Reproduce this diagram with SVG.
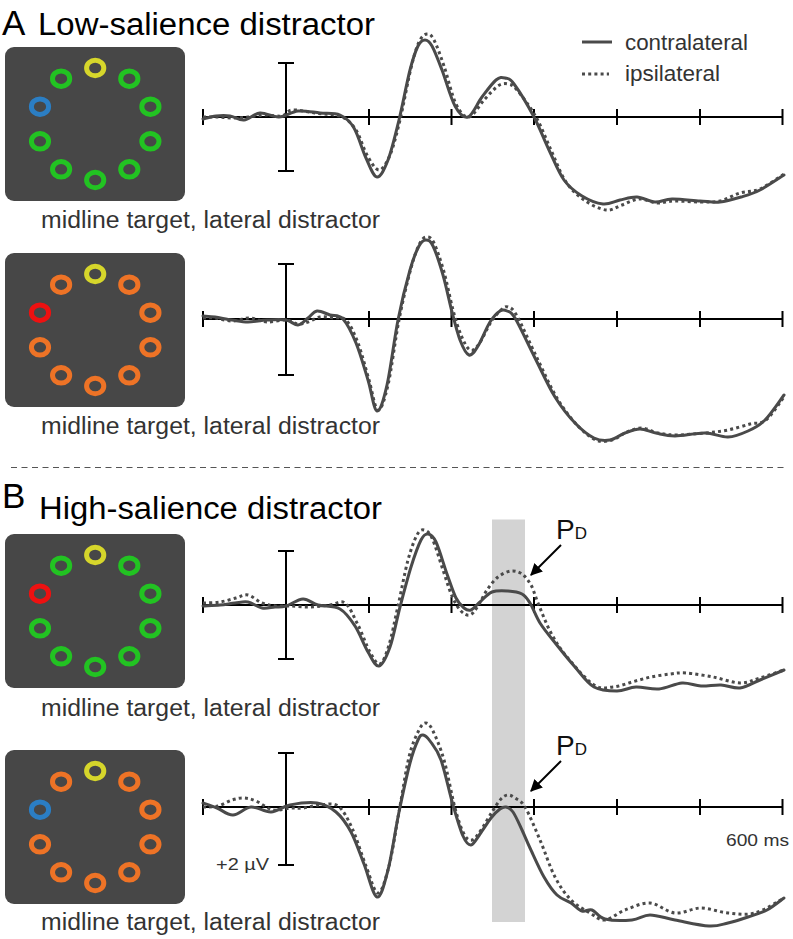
<svg xmlns="http://www.w3.org/2000/svg" xmlns:xlink="http://www.w3.org/1999/xlink" width="793" height="939" viewBox="0 0 793 939">
<defs>
<style>
text{font-family:'Liberation Sans',Arial,sans-serif}
.big{font-size:35px;fill:#000}
.title{font-size:31px;fill:#000}
.sub{font-size:23px;fill:#333}
.leg{font-size:22px;fill:#333}
.small{font-size:17px;fill:#333}
.pd{font-size:28px;fill:#111}
.box{fill:#474747}
.axis{fill:none;stroke:#000;stroke-width:2}
.solid{fill:none;stroke:#4a4a4a;stroke-width:3;stroke-linejoin:round;stroke-linecap:round}
.dotted{fill:none;stroke:#4a4a4a;stroke-width:3;stroke-dasharray:3 3.2}
.arrow{fill:none;stroke:#000;stroke-width:2}
</style>
<ellipse id="ring" cx="0" cy="0" rx="8.6" ry="7.8" fill="none" stroke-width="5"/>
<marker id="ah" viewBox="0 0 10 10" refX="9" refY="5" markerWidth="6" markerHeight="6" orient="auto" markerUnits="strokeWidth">
<path d="M0,0 L10,5 L0,10 Z" fill="#000"/>
</marker>
</defs>
<rect width="793" height="939" fill="#fff"/>

<!-- titles -->
<text class="big" x="2" y="35">A</text>
<text class="title" x="38" y="35" textLength="337" lengthAdjust="spacingAndGlyphs">Low-salience distractor</text>
<text class="big" x="2" y="508">B</text>
<text class="title" x="39" y="519" textLength="343" lengthAdjust="spacingAndGlyphs">High-salience distractor</text>

<!-- legend -->
<g id="legend">
<line x1="582" y1="42" x2="612" y2="42" class="solid" style="stroke-linecap:butt"/>
<text class="leg" x="625" y="50" textLength="123" lengthAdjust="spacingAndGlyphs">contralateral</text>
<line x1="582" y1="74" x2="609" y2="74" class="dotted"/>
<text class="leg" x="625" y="81" textLength="95" lengthAdjust="spacingAndGlyphs">ipsilateral</text>
</g>

<line x1="11" y1="467.5" x2="786" y2="467.5" stroke="#555" stroke-width="1.2" stroke-dasharray="6 4.5"/>

<rect x="492" y="519.5" width="33" height="402.5" fill="#d3d3d3"/>

<!-- stimulus panels -->
<g id="stim-A1" transform="translate(0,47)">
<rect class="box" x="5" y="0" width="180" height="154" rx="9"/>
<use xlink:href="#ring" x="95.2" y="21" stroke="#d6d62b"/>
<use xlink:href="#ring" x="129.3" y="31.7" stroke="#22c322"/>
<use xlink:href="#ring" x="150.4" y="59.7" stroke="#22c322"/>
<use xlink:href="#ring" x="150.4" y="94.3" stroke="#22c322"/>
<use xlink:href="#ring" x="129.3" y="122.3" stroke="#22c322"/>
<use xlink:href="#ring" x="95.2" y="133" stroke="#22c322"/>
<use xlink:href="#ring" x="61.1" y="122.3" stroke="#22c322"/>
<use xlink:href="#ring" x="40" y="94.3" stroke="#22c322"/>
<use xlink:href="#ring" x="40" y="59.7" stroke="#2b7ec4"/>
<use xlink:href="#ring" x="61.1" y="31.7" stroke="#22c322"/>
</g>
<text class="sub" x="41" y="228" textLength="339" lengthAdjust="spacingAndGlyphs">midline target, lateral distractor</text>

<g id="stim-A2" transform="translate(0,253)">
<rect class="box" x="5" y="0" width="180" height="154" rx="9"/>
<use xlink:href="#ring" x="95.2" y="21" stroke="#d6d62b"/>
<use xlink:href="#ring" x="129.3" y="31.7" stroke="#ee7326"/>
<use xlink:href="#ring" x="150.4" y="59.7" stroke="#ee7326"/>
<use xlink:href="#ring" x="150.4" y="94.3" stroke="#ee7326"/>
<use xlink:href="#ring" x="129.3" y="122.3" stroke="#ee7326"/>
<use xlink:href="#ring" x="95.2" y="133" stroke="#ee7326"/>
<use xlink:href="#ring" x="61.1" y="122.3" stroke="#ee7326"/>
<use xlink:href="#ring" x="40" y="94.3" stroke="#ee7326"/>
<use xlink:href="#ring" x="40" y="59.7" stroke="#ee1111"/>
<use xlink:href="#ring" x="61.1" y="31.7" stroke="#ee7326"/>
</g>
<text class="sub" x="41" y="434" textLength="339" lengthAdjust="spacingAndGlyphs">midline target, lateral distractor</text>

<g id="stim-B1" transform="translate(0,534)">
<rect class="box" x="5" y="0" width="180" height="154" rx="9"/>
<use xlink:href="#ring" x="95.2" y="21" stroke="#d6d62b"/>
<use xlink:href="#ring" x="129.3" y="31.7" stroke="#22c322"/>
<use xlink:href="#ring" x="150.4" y="59.7" stroke="#22c322"/>
<use xlink:href="#ring" x="150.4" y="94.3" stroke="#22c322"/>
<use xlink:href="#ring" x="129.3" y="122.3" stroke="#22c322"/>
<use xlink:href="#ring" x="95.2" y="133" stroke="#22c322"/>
<use xlink:href="#ring" x="61.1" y="122.3" stroke="#22c322"/>
<use xlink:href="#ring" x="40" y="94.3" stroke="#22c322"/>
<use xlink:href="#ring" x="40" y="59.7" stroke="#ee1111"/>
<use xlink:href="#ring" x="61.1" y="31.7" stroke="#22c322"/>
</g>
<text class="sub" x="41" y="716" textLength="339" lengthAdjust="spacingAndGlyphs">midline target, lateral distractor</text>

<g id="stim-B2" transform="translate(0,750)">
<rect class="box" x="5" y="0" width="180" height="154" rx="9"/>
<use xlink:href="#ring" x="95.2" y="21" stroke="#d6d62b"/>
<use xlink:href="#ring" x="129.3" y="31.7" stroke="#ee7326"/>
<use xlink:href="#ring" x="150.4" y="59.7" stroke="#ee7326"/>
<use xlink:href="#ring" x="150.4" y="94.3" stroke="#ee7326"/>
<use xlink:href="#ring" x="129.3" y="122.3" stroke="#ee7326"/>
<use xlink:href="#ring" x="95.2" y="133" stroke="#ee7326"/>
<use xlink:href="#ring" x="61.1" y="122.3" stroke="#ee7326"/>
<use xlink:href="#ring" x="40" y="94.3" stroke="#ee7326"/>
<use xlink:href="#ring" x="40" y="59.7" stroke="#2b7ec4"/>
<use xlink:href="#ring" x="61.1" y="31.7" stroke="#ee7326"/>
</g>
<text class="sub" x="41" y="930" textLength="339" lengthAdjust="spacingAndGlyphs">midline target, lateral distractor</text>

<!-- axes -->
<g id="axes">
<path class="axis" d="M203,117H783M203,109V125M369,109V125M451.5,109V125M534,109V125M617,109V125M700,109V125M782.5,109V125M286,63V171M278,63H294M278,171H294"/>
<path class="axis" d="M203,319H783M203,311V327M369,311V327M451.5,311V327M534,311V327M617,311V327M700,311V327M782.5,311V327M286,264V375M278,264H294M278,375H294"/>
<path class="axis" d="M203,605H783M203,597V613M369,597V613M451.5,597V613M534,597V613M617,597V613M700,597V613M782.5,597V613M286,551V659M278,551H294M278,659H294"/>
<path class="axis" d="M203,807H783M203,799V815M369,799V815M451.5,799V815M534,799V815M617,799V815M700,799V815M782.5,799V815M286,753V865M278,753H294M278,865H294"/>
<text class="small" x="216" y="870" textLength="53" lengthAdjust="spacingAndGlyphs">+2 µV</text>
<text class="small" x="726" y="846" textLength="63" lengthAdjust="spacingAndGlyphs">600 ms</text>
</g>

<!-- waveforms -->
<g id="wave-A1">
<path class="dotted" d="M203,117 C205.5,117 213.2,116.8 218,117 S227,118 232,118 S242.5,117.5 248,117 S259.3,115.2 265,115 S277.5,116.8 282,116 S286.5,110.5 292,110 S306.7,111.8 315,113 S335.2,114.2 342,117 S351.8,123.7 356,130 S363.2,148.3 367,155 S375.2,170 379,170 S386.5,163.3 390,155 S396.5,134.5 400,120 S407.8,81 411,68 S416.3,47.7 419,42 S424.5,34.3 427,34 S431.2,34.7 434,40 S440.3,55.3 444,66 S451.8,95.5 456,104 S464.3,117.7 469,117 S479.2,105.2 484,100 S494,88.7 498,86 S504.8,83.3 508,84 S512.3,84.5 517,90 S530.3,107 536,117 S546,139.2 551,150 S560.5,173.7 566,182 S577.3,195.3 584,200 S599.7,209.2 606,210 S616.5,206.8 622,205 S633.2,199.3 639,199 S651.2,202.7 657,203 S666.8,201.2 674,201 S692.3,202 700,202 S713.3,202.5 720,201 S733.3,195 740,193 S752.7,192.2 760,189 S780,176.5 784,174"/>
<path class="solid" d="M203,119 C205.2,118.5 211.5,116.5 216,116 S225.3,115.3 230,116 S239,120.5 244,120 S254.2,113.5 260,113 S272.7,117.3 279,117 S291.2,111.7 298,111 S313,112.3 320,113 S334.3,112.5 340,115 S349.7,120.8 354,128 S362.2,149.8 366,158 S373.3,176.7 377,177 S384.3,169.5 388,160 S395.3,135 399,120 S406.8,82.3 410,70 S415.5,51 418,46 S422.7,40 425,40 S429.2,41 432,46 S438.2,60 442,70 S450.7,98.2 455,106 S463.5,118.5 468,117 S477.3,103.2 482,97 S492.2,83.2 496,80 S502,77.3 505,78 S509.2,77.5 514,84 S528.2,106 534,117 S544,139.5 549,150 S558.5,172.3 564,180 S575.5,192 582,196 S596.7,203.3 603,204 S614.3,201.2 620,200 S631.2,196.7 637,197 S649.2,201.7 655,202 S664.5,199.2 672,199 S692,200.5 700,201 S713.2,202.7 720,202 S734.3,199 741,197 S752.8,193.7 760,190 S780,177.5 784,175"/>
</g>

<g id="wave-A2">
<path class="dotted" d="M203,318 C205,318 210.2,317.5 215,318 S226.2,321 232,321 S244.2,317.8 250,318 S261,321.7 267,322 S280.8,319.7 286,320 S294.3,323.7 298,324 S304.3,323.2 308,322 S315.8,317.7 320,317 S328.7,317.5 333,318 S341.8,315.8 346,320 S354.2,333 358,343 S365.7,368.8 369,380 S374.8,409.2 378,410 S384.5,400 388,385 S395.2,339.5 399,320 S407.5,280.8 411,268 S417.3,248.2 420,243 S424.7,237 427,237 S431.2,237.2 434,243 S440.8,260.8 444,272 S450.2,299.5 453,310 S458.2,328.3 461,335 S467,348.5 470,350 S475.5,348.7 479,344 S487.3,327.7 491,322 S498.2,312.5 501,310 S505.3,306 508,307 S512.2,307.5 517,316 S530.3,344.3 537,358 S550.3,386.8 557,398 S570.5,418 577,425 S590.2,437.5 596,440 S606.8,441.3 612,440 S622,434 627,432 S636.8,427.8 642,428 S652.2,431.8 658,433 S669.2,435 677,435 S696.5,433.8 705,433 S720.5,431.5 728,430 S743.7,425.7 750,424 S760.3,424.5 766,420 S781,400.8 784,397"/>
<path class="solid" d="M203,316 C205,316.2 210.2,316.3 215,317 S226.5,319.2 232,320 S242.2,322 248,322 S260.7,320.3 267,320 S280.8,319.2 286,320 S294.3,325.3 298,325 S304.8,320.3 308,318 S313.3,311.5 317,311 S325.7,313.7 330,315 S338.7,314.3 343,319 S351.8,332.8 356,343 S364.5,368.7 368,380 S373.8,410.2 377,411 S383.5,400.2 387,385 S394.2,339.2 398,320 S406.5,282.3 410,270 S416.3,251 419,246 S423.7,240 426,240 S430.2,240.2 433,246 S439.8,264 443,275 S449.2,301.2 452,312 S457.2,332.8 460,340 S466,354 469,355 S474.5,351.5 478,346 S486.3,327.8 490,322 S497.2,312.8 500,311 S504.5,309.8 507,311 S510.3,310.2 515,318 S528.3,344.8 535,358 S548.3,386.2 555,397 S568.5,416.2 575,423 S588.2,435.2 594,438 S604.8,440.8 610,440 S620,434.8 625,433 S634.8,429 640,429 S650.2,431.8 656,433 S666.8,436 675,436 S696.2,432.8 705,433 S720.8,437.3 728,437 S741.8,433.8 748,431 S759,426 765,420 S780.8,399.2 784,395"/>
</g>

<g id="wave-B1">
<path class="dotted" d="M203,603 C205.8,602.8 214.5,602.8 220,602 S231.3,599.2 236,598 S243.7,594.2 248,595 S257.5,601.2 262,603 S270.3,605.5 275,606 S284.2,605.8 290,606 S303.3,607.2 310,607 S324.2,605.7 330,605 S340.3,599.7 345,603 S353.8,616.8 358,625 S366.3,645.5 370,652 S376.8,665.2 380,664 S386,654.7 389,645 S394.8,620.2 398,606 S404.8,571.8 408,560 S414.3,540 417,535 S421.5,529.5 424,530 S428.8,531.3 432,538 S439.7,560.3 443,570 S449,589.2 452,596 S458,607.8 461,611 S467.2,615.8 470,615 S475.2,610.2 478,606 S483.7,594.8 487,590 S494,580.2 498,577 S507,571.5 511,571 S518.7,571.7 522,574 S528.3,580.2 531,585 S534.7,595 538,603 S546.2,624 551,633 S559.8,648.3 567,657 S586.3,680 594,685 S606.7,687.5 613,687 S625.7,683.7 632,682 S644.7,678.3 651,677 S664.2,674.7 670,674 S678.8,672.5 686,673 S704,675.3 713,677 S732.2,682.8 740,683 S752.7,680.2 760,678 S780,671.3 784,670"/>
<path class="solid" d="M203,606 C205.8,605.8 214.7,605.5 220,605 S230.3,603.5 235,603 S243.5,601.2 248,602 S257.5,607.2 262,608 S271,607.3 275,607 S281.3,607.3 286,606 S297.7,599.2 303,599 S311.8,603.3 318,605 S333.8,605.5 340,609 S350.3,618.8 355,626 S364,645.3 368,652 S375.3,666.8 379,666 S386.5,656.8 390,647 S396.5,620.3 400,607 S407.5,578.2 411,567 S418.2,545.5 421,540 S425.5,533.7 428,534 S432.8,535.3 436,542 S443.7,564.7 447,574 S453.2,592.3 456,598 S461.5,606 464,608 S468.3,611 471,610 S476.5,605 480,602 S487.3,593.8 492,592 S503,590.7 508,591 S518.3,592 522,594 S527,598.2 530,603 S535.7,616.2 540,623 S550.2,636.7 556,644 S568.7,659.8 575,667 S587,683 594,687 S610,691 617,691 S629,687.3 636,687 S651.3,689.7 659,689 S675,683.5 682,683 S694.5,685.7 701,686 S714.5,684.7 721,685 S733.5,688.8 740,688 S752.7,683 760,680 S780,671.7 784,670"/>
</g>

<g id="wave-B2">
<path class="dotted" d="M203,807 C205.5,806.8 213.2,807.2 218,806 S227.7,801.3 232,800 S240,797.8 244,798 S251.2,799 256,801 S267.3,808.8 273,810 S285,808.3 290,808 S298,808.5 303,808 S314.2,805.3 320,805 S332.7,802.2 338,806 S347.3,818 352,828 S361.7,855.2 366,866 S374.2,893 378,893 S385.5,879.5 389,866 S395.7,830.2 399,812 S405.7,770.7 409,757 S416.2,735.7 419,730 S423.7,722.8 426,723 S430,724.8 433,731 S440.3,747.2 444,760 S451.7,795.7 455,808 S461.2,828.7 464,834 S469.2,840.7 472,840 S477.7,834.7 481,830 S488.7,817.2 492,812 S498.3,801.8 501,799 S505.7,795.2 508,795 S512.2,796 515,798 S520.8,800 525,807 S535,828.3 540,840 S549.8,867 555,877 S565.2,894 571,900 S584.3,909.7 590,913 S599.2,920.5 605,920 S617.5,912.8 625,910 S641.7,902.5 650,903 S666.5,912.2 675,913 S692.2,908 701,908 S719,912.2 728,913 S745.7,915.5 755,913 S779.2,900.5 784,898"/>
<path class="solid" d="M203,803 C205.3,803.8 212,806 217,808 S227.3,815.2 233,815 S244.7,807.5 251,807 S264.5,812.3 271,812 S282.3,806.5 290,805 S309.3,801.8 317,803 S330.3,807.2 336,812 S346.3,823.3 351,832 S359.7,853.2 364,864 S373,896 377,897 S384.3,884.2 388,870 S395.3,829.8 399,812 S406.8,775 410,763 S415.8,744.7 418,740 S421,734.8 423,735 S427,736.8 430,741 S437.2,749.3 441,760 S449.3,792.3 453,805 S460,829.3 463,836 S468.2,845.3 471,845 S476.7,838.5 480,834 S487.7,822.2 491,818 S497.5,810.8 500,809 S503.8,806.5 506,807 S510.3,808.2 513,812 S519.2,824 522,830 S526.3,840.2 530,848 S539.5,869.2 544,877 S552.5,890.7 557,895 S566.8,900.3 571,903 S578.5,909.8 582,911 S588.2,908.7 592,910 S598.3,917.3 605,919 S624.5,920.7 632,920 S642.8,915 650,915 S665.2,918.2 675,920 S700.2,925.5 709,926 S721.5,924.5 728,923 S741.5,919.2 748,917 S761,913.2 767,910 S781.2,900 784,898"/>
</g>

<!-- P_D labels and arrows -->
<text class="pd" x="556" y="539">P<tspan style="font-size:17px">D</tspan></text>
<text class="pd" x="556" y="755">P<tspan style="font-size:17px">D</tspan></text>
<g id="connectors">
<line class="arrow" x1="561" y1="545" x2="531" y2="575" marker-end="url(#ah)"/>
<line class="arrow" x1="561" y1="761" x2="531" y2="791" marker-end="url(#ah)"/>
</g>
</svg>
